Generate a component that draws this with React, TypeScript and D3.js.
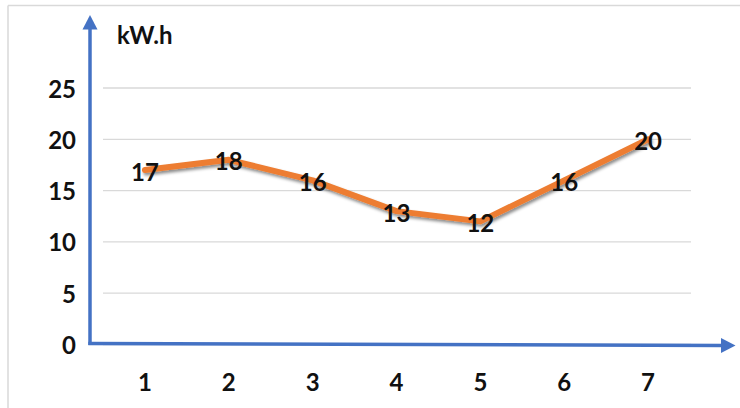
import React from "react";
import * as d3 from "d3";

const days = ["1", "2", "3", "4", "5", "6", "7"];
const energy = [17, 18, 16, 13, 12, 16, 20];
const yTicks = [0, 5, 10, 15, 20, 25];
const unitLabel = "kW.h";

const W = 740;
const H = 408;
const BLUE = "#4472C4";
const ORANGE = "#ED7D31";
const FONT = "Lato, 'Open Sans', sans-serif";
const LABEL_SIZE = 24;

export default function App() {
  const x = d3.scaleBand<string>().domain(days).range([103, 690]);
  const y = d3.scaleLinear().domain([0, 25]).range([344.5, 88]);

  const line = d3
    .line<number>()
    .x((_, i) => (x(days[i]) as number) + x.bandwidth() / 2)
    .y((d) => y(d));

  const axisX0 = 90;
  const axisY0 = 343.5;

  return (
    <svg
      width={W}
      height={H}
      style={{ position: "absolute", left: 0, top: 0, background: "#fff" }}
    >
      <defs>
        <filter id="lineShadow" x="-10%" y="-30%" width="120%" height="160%">
          <feDropShadow dx="1.5" dy="2.5" stdDeviation="1.6" floodColor="#000" floodOpacity="0.45" />
        </filter>
      </defs>

      {/* chart frame */}
      <line x1={8} y1={5.5} x2={W} y2={5.5} stroke="#d9d9d9" strokeWidth={1.5} />
      <line x1={8} y1={5.5} x2={8} y2={H} stroke="#d9d9d9" strokeWidth={1.5} />

      {/* gridlines */}
      {yTicks.map((t) => (
        <line
          key={t}
          x1={103}
          x2={691}
          y1={y(t)}
          y2={y(t)}
          stroke="#d9d9d9"
          strokeWidth={1.3}
        />
      ))}

      {/* y tick labels */}
      {yTicks.map((t) => (
        <text
          key={t}
          x={76}
          y={y(t)}
          textAnchor="end"
          dominantBaseline="central"
          fontFamily={FONT}
          fontWeight={700}
          fontSize={LABEL_SIZE}
          fill="#111"
        >
          {t}
        </text>
      ))}

      {/* x tick labels */}
      {days.map((d) => (
        <text
          key={d}
          x={(x(d) as number) + x.bandwidth() / 2}
          y={381}
          textAnchor="middle"
          dominantBaseline="central"
          fontFamily={FONT}
          fontWeight={700}
          fontSize={LABEL_SIZE}
          fill="#111"
        >
          {d}
        </text>
      ))}

      {/* axes with arrows */}
      <line x1={axisX0} y1={axisY0 + 1.5} x2={axisX0} y2={28} stroke={BLUE} strokeWidth={3.5} />
      <path d={`M${axisX0},15 L${axisX0 + 7.5},29.5 L${axisX0 - 7.5},29.5 Z`} fill={BLUE} />
      <line x1={axisX0 - 1.7} y1={axisY0} x2={723} y2={345.5} stroke={BLUE} strokeWidth={3.5} />
      <path d={`M735.5,345.5 L721,338 L721,353 Z`} fill={BLUE} />

      {/* unit label */}
      <text
        x={117}
        y={34}
        dominantBaseline="central"
        fontFamily={FONT}
        fontWeight={700}
        fontSize={24}
        fill="#111"
      >
        {unitLabel}
      </text>

      {/* series */}
      <path
        d={line(energy) ?? ""}
        fill="none"
        stroke={ORANGE}
        strokeWidth={6}
        strokeLinejoin="round"
        strokeLinecap="round"
        filter="url(#lineShadow)"
      />

      {/* value labels */}
      {energy.map((v, i) => (
        <text
          key={i}
          x={(x(days[i]) as number) + x.bandwidth() / 2}
          y={y(v) + 1}
          textAnchor="middle"
          dominantBaseline="central"
          fontFamily={FONT}
          fontWeight={700}
          fontSize={LABEL_SIZE}
          fill="#111"
        >
          {v}
        </text>
      ))}
    </svg>
  );
}
